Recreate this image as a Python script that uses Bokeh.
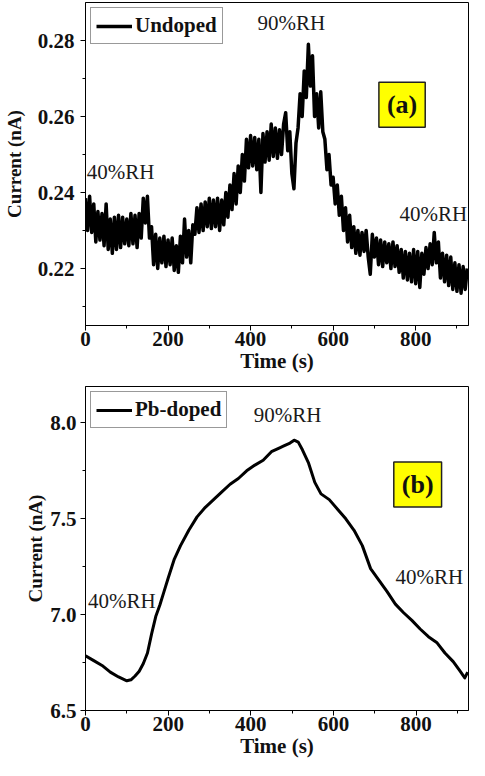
from bokeh.plotting import figure
from bokeh.layouts import column
from bokeh.models import (Range1d, SingleIntervalTicker, NumeralTickFormatter, Label)
from bokeh.embed import file_html
from bokeh.resources import INLINE

# ---------------- data ----------------
# (a) Undoped: time (s) and current (nA), noisy trace
time_a = [0, 5, 10, 15, 20, 25, 30, 35, 40, 45,
          50, 55, 60, 65, 70, 75, 80, 85, 90, 95,
          100, 105, 110, 115, 120, 125, 130, 135, 140, 145,
          150, 155, 160, 165, 170, 175, 180, 185, 190, 195,
          200, 205, 210, 215, 220, 225, 230, 235, 240, 245,
          250, 255, 260, 265, 270, 275, 280, 285, 290, 295,
          300, 305, 310, 315, 320, 325, 330, 335, 340, 345,
          350, 355, 360, 365, 370, 375, 380, 385, 390, 395,
          400, 405, 410, 415, 420, 425, 430, 435, 440, 445,
          450, 455, 460, 465, 470, 475, 480, 485, 490, 495,
          500, 505, 510, 515, 520, 525, 530, 535, 540, 545,
          550, 555, 560, 565, 570, 575, 580, 585, 590, 595,
          600, 605, 610, 615, 620, 625, 630, 635, 640, 645,
          650, 655, 660, 665, 670, 675, 680, 685, 690, 695,
          700, 705, 710, 715, 720, 725, 730, 735, 740, 745,
          750, 755, 760, 765, 770, 775, 780, 785, 790, 795,
          800, 805, 810, 815, 820, 825, 830, 835, 840, 845,
          850, 855, 860, 865, 870, 875, 880, 885, 890, 895,
          900, 905, 910, 915, 920, 925]
current_a = [0.2385, 0.2300, 0.2390, 0.2295, 0.2370, 0.2270, 0.2350, 0.2275, 0.2345, 0.2260,
             0.2370, 0.2250, 0.2330, 0.2240, 0.2335, 0.2250, 0.2340, 0.2255, 0.2335, 0.2265,
             0.2330, 0.2260, 0.2345, 0.2265, 0.2340, 0.2255, 0.2345, 0.2280, 0.2385, 0.2320,
             0.2390, 0.2280, 0.2310, 0.2210, 0.2290, 0.2200, 0.2280, 0.2215, 0.2285, 0.2205,
             0.2275, 0.2210, 0.2280, 0.2195, 0.2260, 0.2190, 0.2285, 0.2215, 0.2330, 0.2230,
             0.2300, 0.2215, 0.2315, 0.2290, 0.2360, 0.2295, 0.2370, 0.2300, 0.2375, 0.2310,
             0.2385, 0.2305, 0.2380, 0.2310, 0.2385, 0.2300, 0.2380, 0.2315, 0.2400, 0.2335,
             0.2420, 0.2355, 0.2450, 0.2370, 0.2470, 0.2400, 0.2500, 0.2430, 0.2540, 0.2465,
             0.2550, 0.2470, 0.2545, 0.2460, 0.2540, 0.2400, 0.2555, 0.2480, 0.2560, 0.2485,
             0.2580, 0.2495, 0.2570, 0.2490, 0.2565, 0.2500, 0.2580, 0.2610, 0.2510, 0.2560,
             0.2450, 0.2410, 0.2530, 0.2570, 0.2660, 0.2600, 0.2720, 0.2650, 0.2790, 0.2680,
             0.2760, 0.2600, 0.2660, 0.2570, 0.2665, 0.2560, 0.2540, 0.2460, 0.2500, 0.2420,
             0.2440, 0.2370, 0.2420, 0.2340, 0.2390, 0.2300, 0.2360, 0.2270, 0.2340, 0.2255,
             0.2310, 0.2240, 0.2300, 0.2235, 0.2295, 0.2245, 0.2300, 0.2230, 0.2185, 0.2290,
             0.2230, 0.2280, 0.2210, 0.2275, 0.2205, 0.2270, 0.2215, 0.2265, 0.2200, 0.2270,
             0.2205, 0.2260, 0.2190, 0.2250, 0.2175, 0.2245, 0.2170, 0.2240, 0.2165, 0.2250,
             0.2160, 0.2245, 0.2150, 0.2240, 0.2185, 0.2255, 0.2200, 0.2265, 0.2210, 0.2295,
             0.2215, 0.2270, 0.2175, 0.2240, 0.2165, 0.2235, 0.2155, 0.2230, 0.2145, 0.2215,
             0.2140, 0.2210, 0.2135, 0.2205, 0.2145, 0.2200]

# (b) Pb-doped
time_b = [0, 20, 40, 60, 80, 100, 110, 120, 130, 140,
          150, 160, 170, 180, 190, 200, 215, 230, 250, 270,
          290, 310, 330, 350, 370, 390, 410, 430, 450, 470,
          480, 495, 505, 515, 525, 540, 555, 570, 590, 610,
          630, 650, 670, 690, 710, 730, 750, 770, 790, 810,
          830, 850, 870, 890, 905, 918, 925]
current_b = [6.785, 6.760, 6.735, 6.700, 6.675, 6.655, 6.660, 6.680, 6.705, 6.745,
             6.800, 6.900, 6.990, 7.050, 7.120, 7.190, 7.290, 7.360, 7.440, 7.510,
             7.560, 7.600, 7.640, 7.680, 7.710, 7.750, 7.780, 7.805, 7.850, 7.870,
             7.880, 7.895, 7.910, 7.900, 7.860, 7.790, 7.690, 7.630, 7.600, 7.550,
             7.500, 7.440, 7.360, 7.240, 7.180, 7.120, 7.055, 7.010, 6.970, 6.925,
             6.885, 6.855, 6.800, 6.755, 6.710, 6.670, 6.700]

x_label = "Time (s)"
y_label = "Current (nA)"
series_a = "Undoped"
series_b = "Pb-doped"
rh_low = "40%RH"
rh_high = "90%RH"

SERIF = "Liberation Serif"


def style(p, yint, yfmt, ylab_standoff, ytick_standoff):
    p.xgrid.visible = False
    p.ygrid.visible = False
    p.outline_line_color = "black"
    p.outline_line_width = 1
    p.background_fill_color = "white"
    p.border_fill_color = "white"
    p.xaxis.ticker = SingleIntervalTicker(interval=200, num_minor_ticks=2)
    p.yaxis.ticker = SingleIntervalTicker(interval=yint, num_minor_ticks=2)
    p.yaxis.formatter = NumeralTickFormatter(format=yfmt)
    for ax in (p.xaxis[0], p.yaxis[0]):
        ax.axis_line_color = "black"
        ax.major_tick_line_color = "black"
        ax.minor_tick_line_color = "black"
        ax.major_tick_out = 5
        ax.major_tick_in = 0
        ax.minor_tick_out = 3
        ax.minor_tick_in = 0
        ax.major_label_text_font = SERIF
        ax.major_label_text_font_style = "bold"
        ax.major_label_text_font_size = "21px"
        ax.major_label_text_color = "#111111"
        ax.axis_label_text_font = SERIF
        ax.axis_label_text_font_style = "bold"
        ax.axis_label_text_color = "#111111"
    p.xaxis.major_label_standoff = 1
    p.yaxis.major_label_standoff = ytick_standoff
    p.xaxis.axis_label = x_label
    p.yaxis.axis_label = y_label
    p.xaxis.axis_label_text_font_size = "21px"
    p.yaxis.axis_label_text_font_size = "19px"
    p.xaxis.axis_label_standoff = 0
    p.yaxis.axis_label_standoff = ylab_standoff


def legend_style(p):
    lg = p.legend[0]
    lg.location = "top_left"
    lg.margin = 5
    lg.padding = 5
    lg.spacing = 0
    lg.glyph_width = 36
    lg.glyph_height = 20
    lg.label_standoff = 3
    lg.label_height = 20
    lg.label_text_font = SERIF
    lg.label_text_font_style = "bold"
    lg.label_text_font_size = "21px"
    lg.label_text_color = "#111111"
    lg.border_line_color = "#333333"
    lg.border_line_width = 1
    lg.background_fill_color = "white"
    lg.background_fill_alpha = 1.0


def rh_label(p, x, y, txt, align):
    p.add_layout(Label(x=x, y=y, text=txt, text_align=align, text_baseline="middle",
                       text_font=SERIF, text_font_size="21px", text_color="#1a1a1a"))


def tag_label(p, x, y, txt):
    p.add_layout(Label(x=x, y=y, text=txt, text_align="center", text_baseline="middle",
                       text_font=SERIF, text_font_style="bold", text_font_size="26px",
                       text_color="#111111", background_fill_color="#FFFF00",
                       border_line_color="#222222", border_line_width=1.5, padding=8))


# ---------------- panel (a) ----------------
pa = figure(width=469, height=380, output_backend="svg", toolbar_location=None,
            x_range=Range1d(0, 928), y_range=Range1d(0.205, 0.29),
            min_border_left=78, min_border_right=1, min_border_top=2, min_border_bottom=55)
style(pa, 0.02, "0.00", 10, 6)
pa.line(time_a, current_a, line_color="black", line_width=3.5, line_join="round",
        legend_label=series_a)
legend_style(pa)
rh_label(pa, 3, 0.2454, rh_low, "left")
rh_label(pa, 499, 0.2845, rh_high, "center")
rh_label(pa, 843, 0.2343, rh_low, "center")
tag_label(pa, 767, 0.2631, "(a)")

# ---------------- panel (b) ----------------
pb = figure(width=469, height=380, output_backend="svg", toolbar_location=None,
            x_range=Range1d(0, 927), y_range=Range1d(6.5, 8.19),
            min_border_left=62, min_border_right=1, min_border_top=6, min_border_bottom=44)
style(pb, 0.5, "0.0", 1, 4)
pb.line(time_b, current_b, line_color="black", line_width=3, line_join="round",
        legend_label=series_b)
legend_style(pb)
rh_label(pb, 489, 8.039, rh_high, "center")
rh_label(pb, 88, 7.073, rh_low, "center")
rh_label(pb, 832, 7.194, rh_low, "center")
tag_label(pb, 804, 7.679, "(b)")

layout = column(pa, pb, spacing=0)
open("out.html", "w").write(file_html(layout, INLINE))
